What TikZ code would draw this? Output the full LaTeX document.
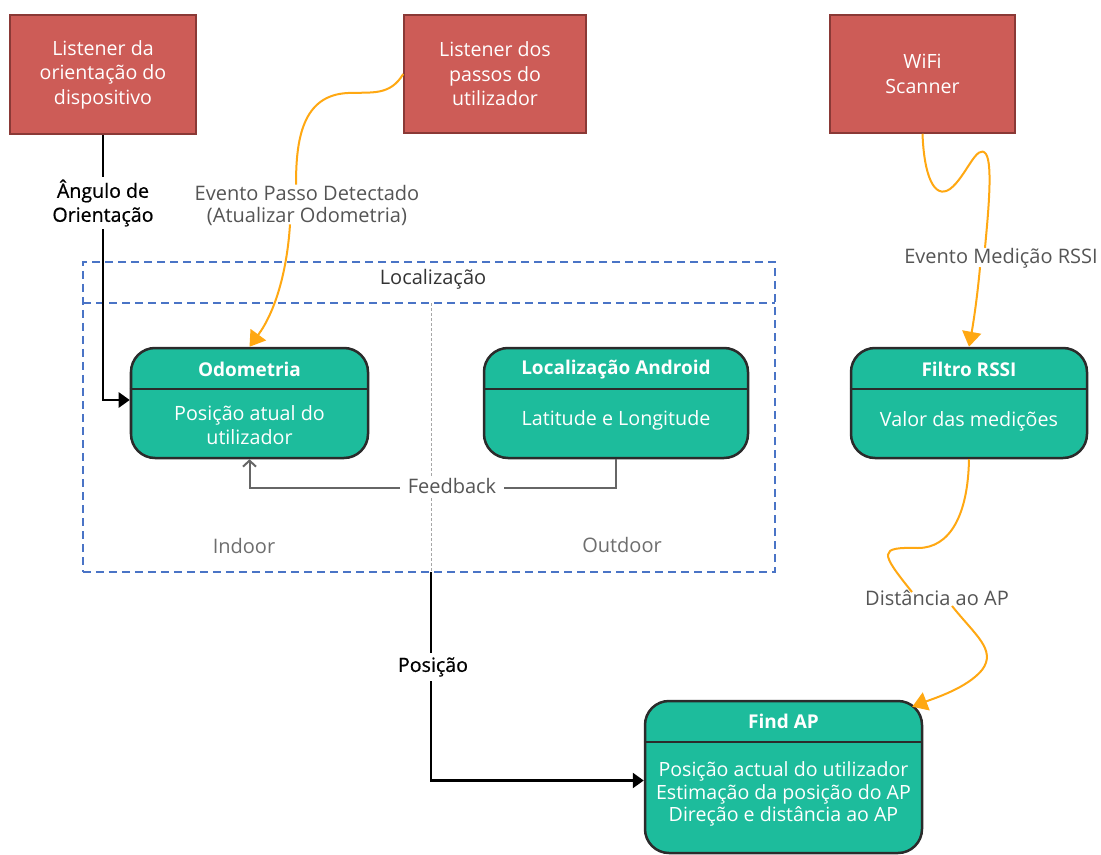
\documentclass[tikz,border=0pt]{standalone}
\usepackage{fontspec}
\setmainfont{Open Sans}
\newfontfamily\semibold[FakeBold=0.7]{Open Sans}
\usetikzlibrary{arrows.meta}

\definecolor{srcfill}{HTML}{CD5C57}
\definecolor{srcline}{HTML}{8A3936}
\definecolor{statefill}{HTML}{1DBC9C}
\definecolor{stateline}{HTML}{2B2B2B}
\definecolor{eventline}{HTML}{FFA812}
\definecolor{zoneline}{HTML}{4A74C6}
\definecolor{tagtext}{HTML}{555555}

\newcommand\fsz[2]{\fontsize{#1bp}{#2bp}\selectfont}

\tikzset{
  srcbox/.style={draw=srcline, line width=1.5bp, fill=srcfill, text=white,
    align=center, inner sep=0pt, font=\fsz{19.6}{24.5}},
  statebox/.style={draw=stateline, line width=2.5bp, fill=statefill,
    rounded corners=24bp, inner sep=0pt},
  divider/.style={draw=stateline, line width=2.5bp},
  statetitle/.style={text=white, font=\bfseries\fsz{19}{22}, inner sep=0pt},
  statebody/.style={text=white, align=center, font=\fsz{19.7}{24}, inner sep=0pt},
  flow/.style={draw=black, line width=2.5bp},
  flowtip/.style={-{Triangle[length=11bp,width=15bp]}},
  event/.style={draw=eventline, line width=2bp},
  eventtip/.style={-{Triangle[length=15bp,width=19bp]}},
  feedback/.style={draw=tagtext!90, line width=2bp,
    -{Straight Barb[length=6bp,width=13bp,line width=2bp]}},
  zone/.style={draw=zoneline, line width=1.6bp, dash pattern=on 8bp off 5bp},
  tag/.style={text=tagtext, align=center, font=\fsz{20}{22}, inner sep=2bp},
  blacktag/.style={text=black, align=center, font=\semibold\fsz{19.6}{24}, fill=white, inner sep=3bp},
}

\begin{document}
\begin{tikzpicture}[x=1bp, y=-1bp]
\useasboundingbox[fill=white] (0,0) rectangle (1101,855);

% sources
\node[srcbox, minimum width=186bp, minimum height=119bp] (orient) at (103,74.5)
  {Listener da\\orientação do\\dispositivo};
\node[srcbox, minimum width=182bp, minimum height=118bp] (steps) at (495,74)
  {Listener dos\\passos do\\utilizador};
\node[srcbox, minimum width=185bp, minimum height=118bp] (wifi) at (922.5,74)
  {WiFi\\Scanner};

% localisation zone
\node[zone, minimum width=692bp, minimum height=310bp, inner sep=0pt] (loc) at (429,417) {};
\draw[zone] (83,303) -- (775,303);
\node[text=black!80, font=\fsz{20}{22}] (loctitle) at (433,279) {Localização};
\coordinate (split) at (431,572);
\draw[black!35, line width=0.8bp, dash pattern=on 3bp off 2bp] (431,303) -- (split);
\node[tag, text=tagtext!85] (indoor) at (244,546) {Indoor};
\node[tag, text=tagtext!85] (outdoor) at (622,545) {Outdoor};

% states
\node[statebox, minimum width=237bp, minimum height=110bp] (odo) at (249.5,403) {};
\draw[divider] (odo.west |- 0,389) -- (odo.east |- 0,389);
\node[statetitle] (odotitle) at (249.5,369) {Odometria};
\node[statebody] (odobody) at (249.5,425) {Posição atual do\\utilizador};

\node[statebox, minimum width=264bp, minimum height=110bp] (android) at (616,403) {};
\draw[divider] (android.west |- 0,389) -- (android.east |- 0,389);
\node[statetitle] (androidtitle) at (616,370) {Localização Android};
\node[statebody] (androidbody) at (616,420) {Latitude e Longitude};

\node[statebox, minimum width=236bp, minimum height=110bp] (filter) at (969,403) {};
\draw[divider] (filter.west |- 0,389) -- (filter.east |- 0,389);
\node[statetitle] (filtertitle) at (969,369) {Filtro RSSI};
\node[statebody] (filterbody) at (969,421) {Valor das medições};

\node[statebox, minimum width=277bp, minimum height=152bp] (find) at (783.5,777) {};
\draw[divider] (find.west |- 0,742) -- (find.east |- 0,742);
\node[statetitle] (findtitle) at (783.5,721) {Find AP};
\node[statebody, font=\fsz{19.6}{22.5}] (findbody) at (783.5,794)
  {Posição actual do utilizador\\Estimação da posição do AP\\Direção e distância ao AP};

% orientation angle into odometry
\draw[flow, flowtip] (orient.south) |- ([yshift=3bp]odo.west);
\node[blacktag] (angle) at (103,203) {Ângulo de\\Orientação};

% feedback from Android location
\draw[feedback] (android.south) -- ++(0,29) -| (odo.south);
\node[tag, fill=white, inner xsep=8bp] (fb) at (452,486) {Feedback};

% position into Find AP
\draw[flow, flowtip] (split) |- ([yshift=-3.5bp]find.west);
\node[blacktag, inner ysep=4bp] (pos) at (433,667) {Posição};

% step event
\node[tag] (stepev) at (307,205) {Evento Passo Detectado\\(Atualizar Odometria)};
\draw[event] (steps.west) .. controls (390,96) and (372,92) .. (348,93)
  .. controls (302,95) and (296,140) .. ([xshift=-11bp,yshift=-2bp]stepev.north);
\draw[event, eventtip] ([xshift=-17bp,yshift=3bp]stepev.south)
  .. controls (287,272) and (275,312) .. (odo.north);

% RSSI measurement event
\node[tag] (rssiev) at (1001,258) {Evento Medição RSSI};
\draw[event] (wifi.south) .. controls (924,175) and (934,200) .. (950,189)
  .. controls (966,177) and (977,142) .. (986,154)
  .. controls (993,165) and (988,215) .. ([xshift=-16bp,yshift=-2bp]rssiev.north);
\draw[event, eventtip] ([xshift=-21bp,yshift=3bp]rssiev.south)
  .. controls (977,300) and (973,325) .. (filter.north);

% distance to AP
\node[tag] (dist) at (937,598) {Distância ao AP};
\draw[event] (filter.south) .. controls (968,515) and (950,548) .. (918,548)
  .. controls (878,547) and (880,552) .. ([xshift=-25bp,yshift=-4bp]dist.north);
\draw[event, eventtip] ([xshift=15bp,yshift=2bp]dist.south)
  .. controls (975,635) and (997,650) .. (982,670)
  .. controls (967,688) and (935,698) .. ([xshift=-11bp,yshift=-7bp]find.north east);
\end{tikzpicture}
\end{document}
